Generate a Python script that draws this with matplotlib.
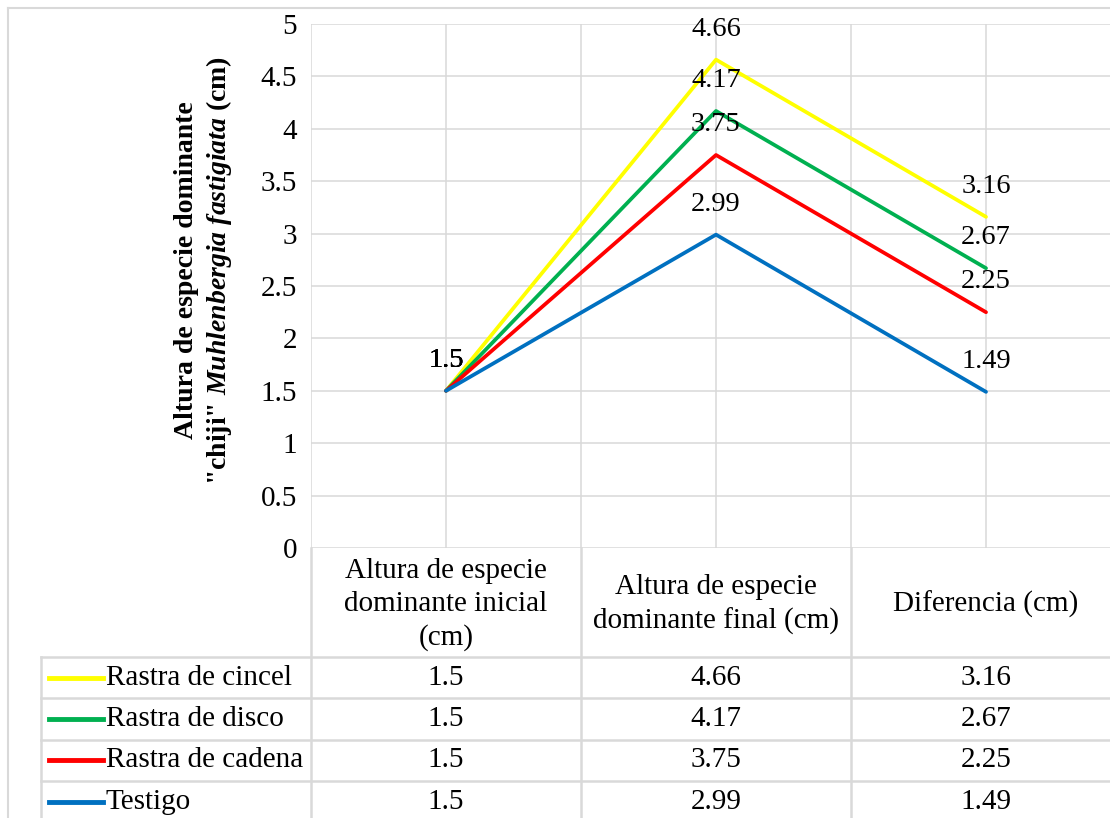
import matplotlib
matplotlib.use("Agg")
import matplotlib.pyplot as plt
from matplotlib.lines import Line2D
import numpy as np

plt.rcParams['font.family'] = 'Liberation Serif'
plt.rcParams['mathtext.fontset'] = 'custom'
plt.rcParams['mathtext.rm'] = 'Liberation Serif:bold'
plt.rcParams['mathtext.it'] = 'Liberation Serif:italic:bold'
plt.rcParams['mathtext.bf'] = 'Liberation Serif:bold'

# Categories (columns of the data table)
categories = ['Altura de especie\ndominante inicial\n(cm)',
              'Altura de especie\ndominante final (cm)',
              'Diferencia (cm)']

# Series, in table order (top to bottom)
series_names = ['Rastra de cincel', 'Rastra de disco', 'Rastra de cadena', 'Testigo']
cincel = [1.5, 4.66, 3.16]
disco = [1.5, 4.17, 2.67]
cadena = [1.5, 3.75, 2.25]
testigo = [1.5, 2.99, 1.49]
series_values = [cincel, disco, cadena, testigo]
series_colors = ['#FFFF00', '#00B050', '#FF0000', '#0070C0']

yticks = [0, 0.5, 1, 1.5, 2, 2.5, 3, 3.5, 4, 4.5, 5]

FS = 21
GRID = '#d9d9d9'

W, H = 1110, 818
fig = plt.figure(figsize=(W / 100, H / 100), dpi=100)
# plot area in pixels: x 311..1121, y 24..548
ax = fig.add_axes([311 / W, 1 - 548 / H, 810 / W, 524 / H])

x = np.arange(len(categories))
ax.set_xlim(-0.5, len(categories) - 0.5)
ax.set_ylim(0, 5)

for vals, color in zip(series_values, series_colors):
    ax.plot(x, vals, color=color, lw=2.7, solid_capstyle='round', zorder=3)
    for xi, v in zip(x, vals):
        ax.annotate(f'{v:g}', (xi, v), xytext=(0, 22), textcoords='offset points',
                    ha='center', va='center', fontsize=20.5, zorder=4)

ax.set_yticks(yticks)
ax.set_yticklabels([f'{t:g}' for t in yticks])
ax.set_xticks(np.arange(-0.5, len(categories), 0.5))
ax.tick_params(axis='y', length=0, pad=10, labelsize=FS)
ax.tick_params(axis='x', length=0, labelbottom=False)
ax.grid(True, color=GRID, lw=1.1)
ax.set_axisbelow(True)
for s in ax.spines.values():
    s.set_visible(False)

# y-axis title (two lines, species name in italics)
ax.text(-0.132, 0.53,
        'Altura de especie dominante\n'
        r'"chiji" $\mathit{Muhlenbergia\ fastigiata}$ (cm)',
        transform=ax.transAxes, rotation=90, ha='center', va='center',
        multialignment='center', fontsize=20, fontweight='bold')

# data table under the plot area
tr = ax.get_xaxis_transform()
def py(p):
    # pixel row -> axes fraction
    return (548 - p) / 524

header_bot = 657
row_h = 41.3
rows_top = [header_bot + i * row_h for i in range(len(series_names) + 1)]
y_bottom = py(H + 5)
x_left = -1.5
x_right = len(categories) - 0.5 + 0.2

line_kw = dict(color=GRID, lw=1.8, transform=tr, clip_on=False, zorder=1)
for xb in np.arange(-0.5, len(categories), 1.0):
    ax.plot([xb, xb], [0, y_bottom], **line_kw)
ax.plot([x_left, x_left], [py(header_bot), y_bottom], **line_kw)
for rt in rows_top:
    ax.plot([x_left, x_right], [py(rt), py(rt)], **line_kw)

for xi, cat in zip(x, categories):
    ax.text(xi, py((548 + header_bot) / 2 + 2), cat, transform=tr, ha='center', va='center',
            fontsize=FS, multialignment='center', linespacing=1.35)

for i, (name, vals, color) in enumerate(zip(series_names, series_values, series_colors)):
    yc = py(rows_top[i] + row_h / 2)
    ax.add_line(Line2D([-1.472, -1.27], [yc, yc], color=color, lw=3.5,
                       transform=tr, clip_on=False))
    ax.text(-1.26, yc, name, transform=tr, ha='left', va='center', fontsize=FS)
    for xi, v in zip(x, vals):
        ax.text(xi, yc, f'{v:g}', transform=tr, ha='center', va='center', fontsize=FS)

# chart frame
fig.add_artist(Line2D([8 / W, 1.01], [1 - 8 / H, 1 - 8 / H], color=GRID, lw=1.5,
                      transform=fig.transFigure))
fig.add_artist(Line2D([8 / W, 8 / W], [1 - 8 / H, -0.01], color=GRID, lw=1.5,
                      transform=fig.transFigure))

fig.savefig('out.png', dpi=100, facecolor='white')
